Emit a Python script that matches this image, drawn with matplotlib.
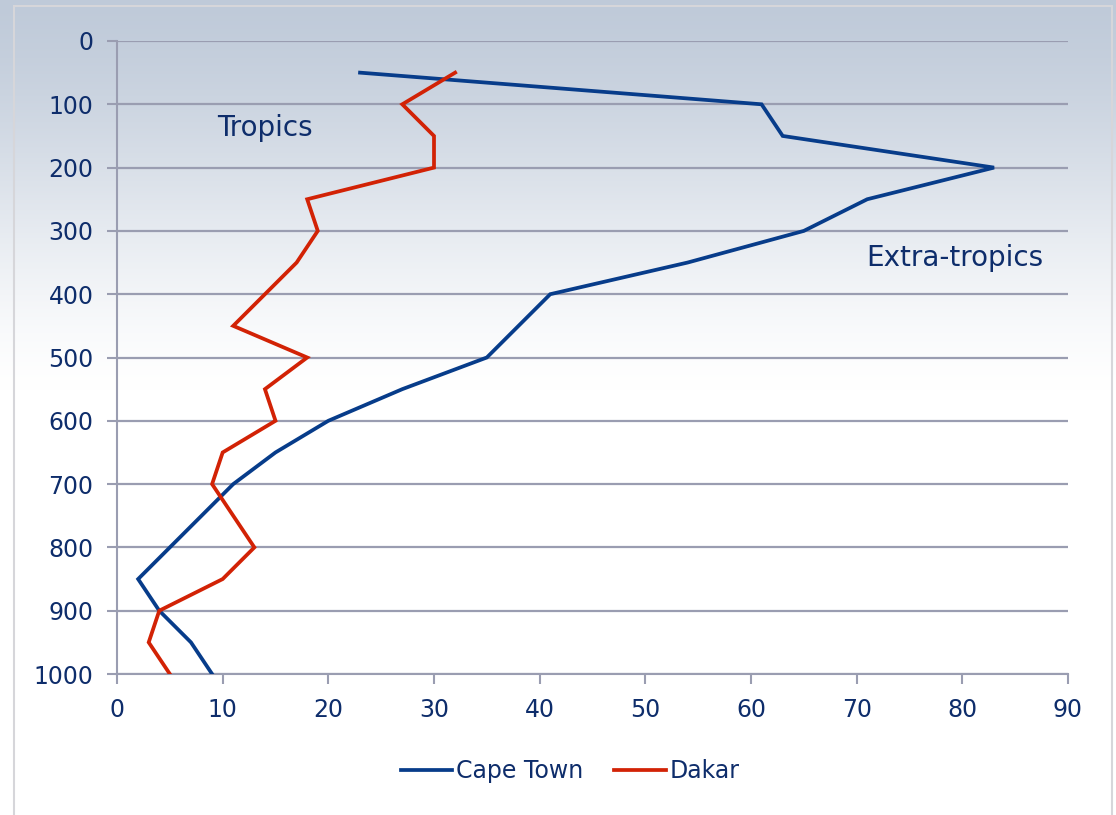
import numpy as np
import matplotlib
matplotlib.use("Agg")
import matplotlib.pyplot as plt
from matplotlib.patches import Rectangle
from matplotlib.lines import Line2D

plt.rcParams['font.family'] = ['DejaVu Sans']

# Pressure levels (hPa) and values for each station
cape_town_levels = [50, 100, 150, 200, 250, 300, 350, 400, 500, 550, 600, 650, 700, 750, 850, 900, 950, 1000]
cape_town_values = [23, 61, 63, 83, 71, 65, 54, 41, 35, 27, 20, 15, 11, 8, 2, 4, 7, 9]

dakar_levels = [50, 100, 150, 200, 250, 300, 350, 450, 500, 550, 600, 650, 700, 800, 850, 900, 950, 1000]
dakar_values = [32, 27, 30, 30, 18, 19, 17, 11, 18, 14, 15, 10, 9, 13, 10, 4, 3, 5]

y_ticks = [0, 100, 200, 300, 400, 500, 600, 700, 800, 900, 1000]
x_ticks = [0, 10, 20, 30, 40, 50, 60, 70, 80, 90]

text_color = '#0E2D6B'
grid_color = '#9A9DB1'
cape_color = '#073C8A'
dakar_color = '#D22205'

fig = plt.figure(figsize=(11.16, 8.15), dpi=100)

# soft vertical gradient behind everything
bg = fig.add_axes([0, 0, 1, 1], zorder=-10)
h = 815
rows = np.arange(h)
t = np.clip(rows / 390.0, 0, 1)
t = t * t * (3 - 2 * t) * 0.6 + t * 0.4
top = np.array([191, 202, 217]) / 255.0
bot = np.array([1.0, 1.0, 1.0])
grad = top[None, :] * (1 - t[:, None]) + bot[None, :] * t[:, None]
img = np.repeat(grad[:, None, :], 4, axis=1)
bg.imshow(img, aspect='auto', extent=[0, 1, 0, 1], origin='upper')
bg.set_axis_off()

# light frame around the chart area
fig.patches.append(Rectangle((14 / 1116, -0.01), (1112 - 14) / 1116, 1 - 6 / 815 + 0.01,
                             transform=fig.transFigure, fill=False,
                             edgecolor='#D6D6DA', linewidth=1.5, zorder=-5))

ax = fig.add_axes([117 / 1116, 1 - 674 / 815, (1068 - 117) / 1116, (674 - 41) / 815])
ax.set_facecolor('none')

ax.plot(cape_town_values, cape_town_levels, color=cape_color, lw=2.7,
        solid_joinstyle='miter', label='Cape Town', zorder=3)
ax.plot(dakar_values, dakar_levels, color=dakar_color, lw=2.7,
        solid_joinstyle='miter', label='Dakar', zorder=3)

ax.set_xlim(0, 90)
ax.set_ylim(1000, 0)
ax.set_xticks(x_ticks)
ax.set_yticks(y_ticks)

for s in ['top', 'right']:
    ax.spines[s].set_visible(False)
for s in ['left', 'bottom']:
    ax.spines[s].set_color(grid_color)
    ax.spines[s].set_linewidth(1.5)

ax.yaxis.grid(True, color=grid_color, linewidth=1.6)
ax.set_axisbelow(True)
ax.tick_params(axis='both', colors=grid_color, width=1.5, length=7,
               labelcolor=text_color, labelsize=17, pad=10)

ax.text(14, 137, 'Tropics', color=text_color, fontsize=20, ha='center', va='center')
ax.text(79.3, 343, 'Extra-tropics', color=text_color, fontsize=20, ha='center', va='center')

handles = [Line2D([], [], color=cape_color, lw=2.7), Line2D([], [], color=dakar_color, lw=2.7)]
fig.legend(handles, ['Cape Town', 'Dakar'], loc='center',
           bbox_to_anchor=(0.5 + 12 / 1116, 1 - 771 / 815),
           ncol=2, frameon=False, fontsize=17, labelcolor=text_color,
           handlelength=2.2, handletextpad=0.15, columnspacing=1.3)

fig.savefig('out.png', dpi=100)
